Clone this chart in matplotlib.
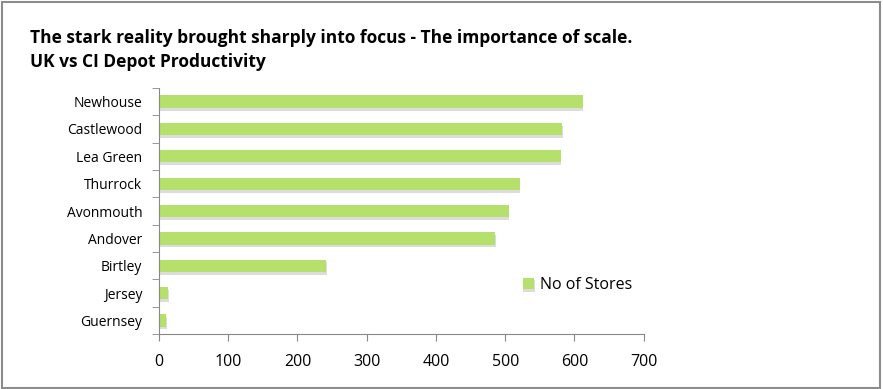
import matplotlib.pyplot as plt
import matplotlib.patheffects as pe
from matplotlib.patches import Rectangle

depots = ['Newhouse', 'Castlewood', 'Lea Green', 'Thurrock', 'Avonmouth',
          'Andover', 'Birtley', 'Jersey', 'Guernsey']
stores = [612, 582, 580, 521, 505, 485, 241, 13, 10]

plt.rcParams['font.family'] = ['Open Sans', 'DejaVu Sans']

fig = plt.figure(figsize=(8.83, 3.89), dpi=100)
fig.patches.append(Rectangle((0.002, 0.003), 0.995, 0.993, transform=fig.transFigure,
                             fill=False, edgecolor='#8c8c8c', linewidth=1.5))
ax = fig.add_axes([0.180, 0.141, 0.549, 0.633])

pos = list(range(len(depots)))[::-1]
bars = ax.barh(pos, stores, height=0.45, color='#b5e06c', label='No of Stores')
for b in bars:
    b.set_path_effects([pe.SimplePatchShadow(offset=(0.5, -2), shadow_rgbFace='#bbbbbb', alpha=0.5),
                        pe.Normal()])

ax.set_xlim(0, 700)
ax.set_ylim(-0.5, len(depots) - 0.5)
ax.set_xticks(range(0, 701, 100))
ax.set_yticks(pos)
ax.set_yticklabels(depots)
ax.set_yticks([p - 0.5 for p in range(len(depots) + 1)], minor=True)
ax.tick_params(axis='y', which='major', length=0, pad=12, labelsize=10)
ax.tick_params(axis='y', which='minor', length=5, color='#888888')
ax.tick_params(axis='x', length=5, color='#888888', labelsize=11.5, pad=9)

for s in ['top', 'right']:
    ax.spines[s].set_visible(False)
for s in ['left', 'bottom']:
    ax.spines[s].set_color('#888888')

ax.legend(loc='center left', bbox_to_anchor=(0.592, 0.268), bbox_transform=fig.transFigure,
          frameon=False, fontsize=11.5, handlelength=0.7, handleheight=0.7, handletextpad=0.4,
          borderpad=0, borderaxespad=0)

fig.text(0.034, 0.902, 'The stark reality brought sharply into focus - The importance of scale.',
         fontsize=12.5, fontweight='bold', va='center')
fig.text(0.034, 0.841, 'UK vs CI Depot Productivity', fontsize=12.5, fontweight='bold', va='center')

fig.savefig('out.png', dpi=100)
